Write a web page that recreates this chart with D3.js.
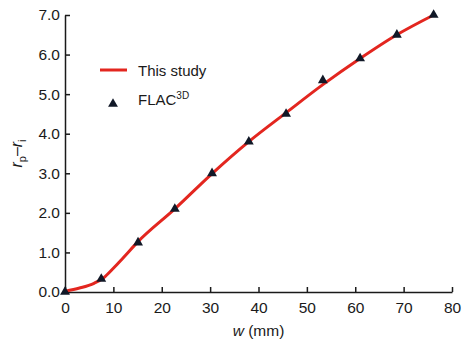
<!DOCTYPE html>
<html>
<head>
<meta charset="utf-8">
<script src="https://cdn.jsdelivr.net/npm/d3@7"></script>
<style>
  body { margin: 0; background: #fff; }
  svg text { font-family: "Liberation Sans", Arial, sans-serif; fill: #1a1a1a; }
</style>
</head>
<body>
<svg id="chart" width="465" height="345"></svg>
<script>
// model curve ("This study")
const lineW = [0, 3, 6, 8, 10, 12, 15, 22.7, 30.3, 38, 45.6, 53.3, 61, 68.6, 76.2];
const lineR = [0.02, 0.1, 0.22, 0.36, 0.6, 0.86, 1.26, 2.1, 2.98, 3.8, 4.52, 5.24, 5.9, 6.5, 7.0];
// FLAC3D points
const flacW = [0, 7.5, 15.1, 22.7, 30.4, 38, 45.7, 53.3, 61, 68.6, 76.2];
const flacR = [0, 0.33, 1.25, 2.1, 3.0, 3.8, 4.5, 5.35, 5.9, 6.5, 7.0];
const xTicks = [0, 10, 20, 30, 40, 50, 60, 70, 80];
const yTicks = [0, 1, 2, 3, 4, 5, 6, 7];

const svg = d3.select("#chart");
const margin = { top: 15, right: 13, bottom: 53, left: 65 };
const innerWidth = 465 - margin.left - margin.right;
const innerHeight = 345 - margin.top - margin.bottom;

const x = d3.scaleLinear().domain([0, 80]).range([margin.left, margin.left + innerWidth]);
const y = d3.scaleLinear().domain([0, 7]).range([margin.top + innerHeight, margin.top]);

const xAxis = svg.append("g")
  .attr("transform", `translate(0,${margin.top + innerHeight})`)
  .call(d3.axisBottom(x).tickValues(xTicks).tickSize(-5).tickPadding(10).tickSizeOuter(0));
const yAxis = svg.append("g")
  .attr("transform", `translate(${margin.left},0)`)
  .call(d3.axisLeft(y).tickValues(yTicks).tickSize(-5).tickPadding(5).tickSizeOuter(0).tickFormat(d3.format(".1f")));

[xAxis, yAxis].forEach(g => {
  g.selectAll("path, line").attr("stroke", "#1a1a1a").attr("stroke-width", 1.5);
  g.selectAll("text").style("font-size", "15.5px").attr("fill", "#1a1a1a");
});

const line = d3.line()
  .x((d, i) => x(lineW[i]))
  .y((d, i) => y(lineR[i]))
  .curve(d3.curveMonotoneX);

svg.append("path")
  .attr("d", line(lineW))
  .attr("fill", "none")
  .attr("stroke", "#e3261f")
  .attr("stroke-width", 3);

const tri = d3.symbol().type(d3.symbolTriangle).size(42);
svg.selectAll(".pt")
  .data(flacW)
  .join("path")
  .attr("class", "pt")
  .attr("d", tri)
  .attr("fill", "#111827")
  .attr("transform", (d, i) => `translate(${x(d)},${y(flacR[i])})`);

// legend
svg.append("line")
  .attr("x1", 100).attr("x2", 127).attr("y1", 70).attr("y2", 70)
  .attr("stroke", "#e3261f").attr("stroke-width", 3);
svg.append("text").attr("x", 138).attr("y", 76).style("font-size", "15px").text("This study");
svg.append("path").attr("d", tri).attr("fill", "#111827").attr("transform", "translate(113,104)");
const flac = svg.append("text").attr("x", 138).attr("y", 105).style("font-size", "15px");
flac.append("tspan").text("FLAC");
flac.append("tspan").attr("dy", -6).style("font-size", "10px").text("3D");

// axis titles
const xt = svg.append("text")
  .attr("x", x(40)).attr("y", 336)
  .attr("text-anchor", "middle")
  .style("font-size", "15.5px");
xt.append("tspan").style("font-style", "italic").text("w");
xt.append("tspan").text(" (mm)");

const yt = svg.append("text")
  .attr("transform", `translate(22,${y(3.5)}) rotate(-90)`)
  .attr("text-anchor", "middle")
  .style("font-size", "16px")
  .style("font-style", "italic");
yt.append("tspan").text("r");
yt.append("tspan").attr("dy", 4).style("font-size", "11px").style("font-style", "normal").text("p");
yt.append("tspan").attr("dy", -4).style("font-style", "normal").text("\u2013");
yt.append("tspan").text("r");
yt.append("tspan").attr("dy", 4).style("font-size", "11px").style("font-style", "normal").text("i");
</script>
</body>
</html>
